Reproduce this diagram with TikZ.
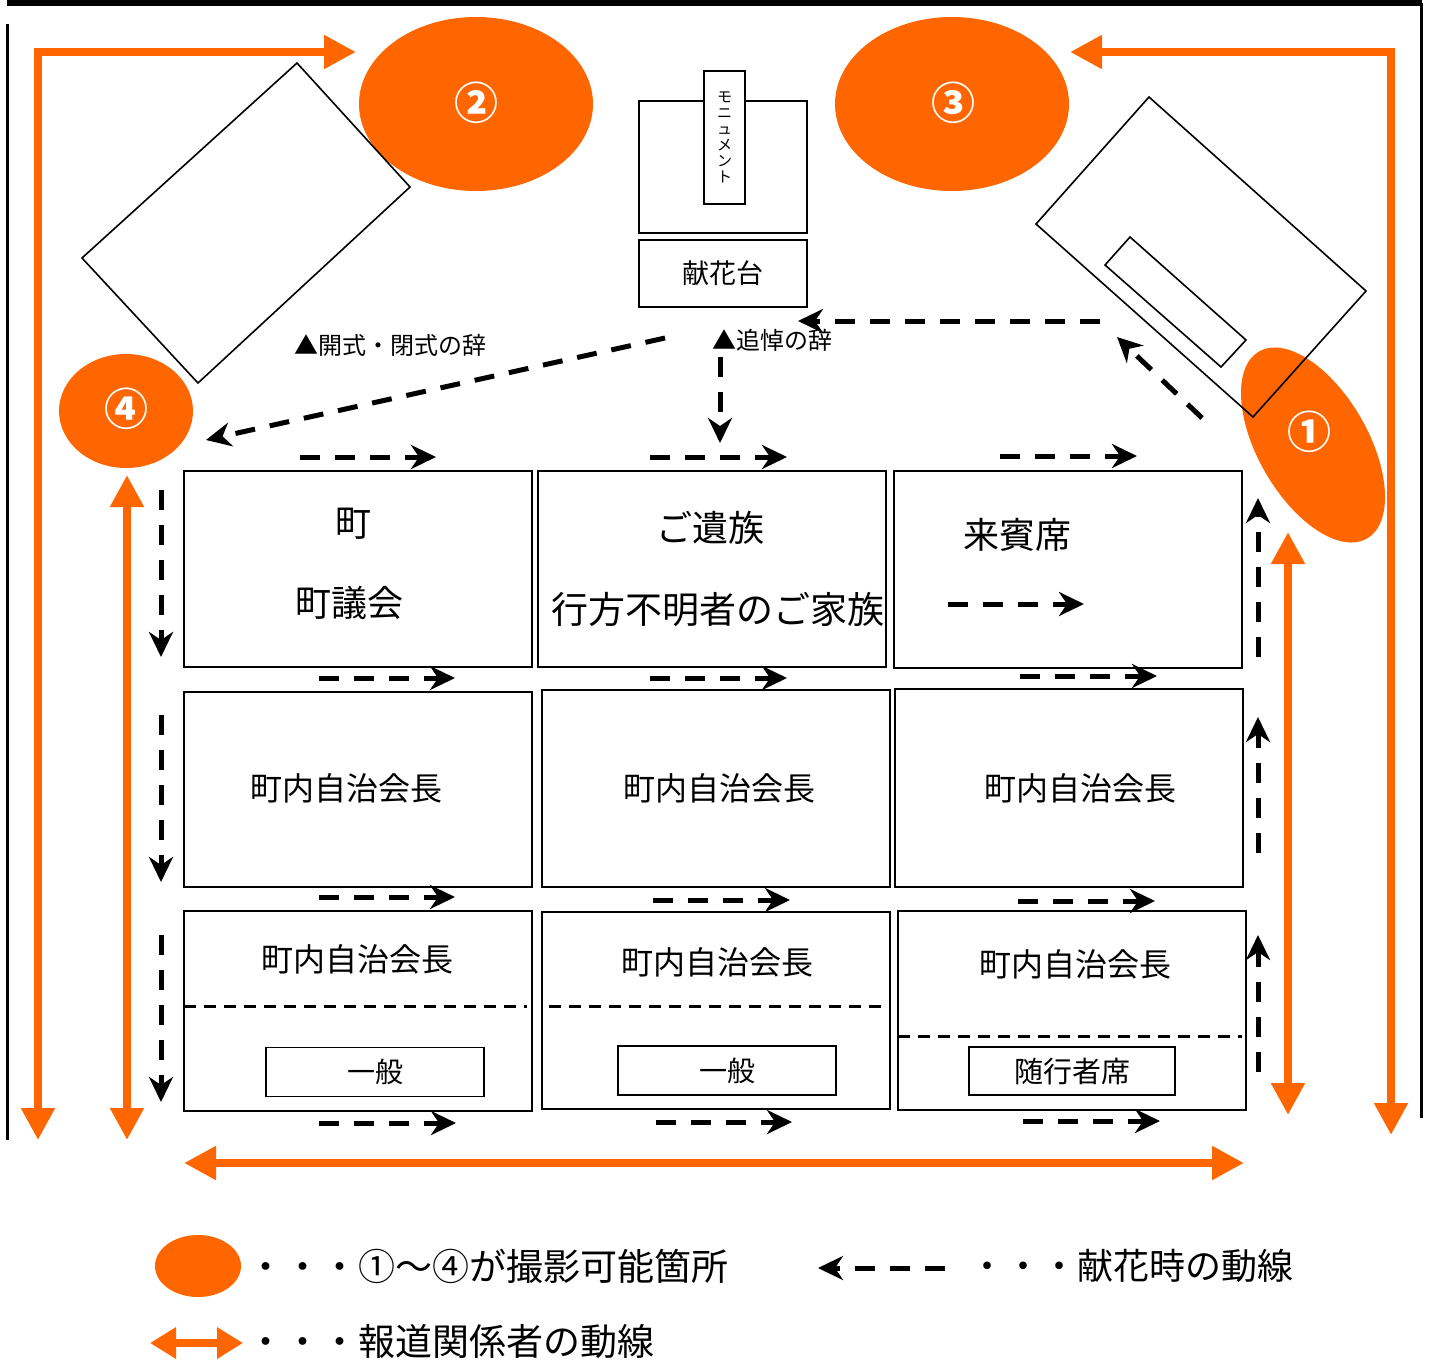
\documentclass[tikz,border=0pt]{standalone}
\usepackage{fontspec}
\setmainfont{Noto Sans CJK JP}
\usetikzlibrary{arrows.meta}
\definecolor{hodo}{HTML}{FF6600}
\newcommand{\fsz}[1]{\fontsize{#1}{#1}\selectfont}

\begin{document}
\begin{tikzpicture}[x=1pt,y=-1pt,
        seat/.style={line width=1.6pt},
        flow/.style={line width=5pt,dash pattern=on 20pt off 15pt,-{Stealth[length=25pt,width=24pt,inset=8pt]}},
        media/.style={hodo,line width=8pt,{Triangle[length=32pt,width=32pt]}-{Triangle[length=32pt,width=32pt]}},
        spot/.style={text=white,font=\fsz{44}\bfseries},
        lbl/.style={font=\fsz{#1}},
        lbl/.default=32]
        \useasboundingbox (0,0) rectangle (1431,1360);
        % walls
        \draw[line width=6pt] (7,3)--(1422,3);
        \draw[line width=3pt] (7,24)--(7,1140);
        \draw[line width=3pt] (1421,3)--(1421,1118);
        % photo spots
        \fill[hodo] (476,104) ellipse [x radius=117pt, y radius=87pt];
        \fill[hodo] (952,104) ellipse [x radius=117pt, y radius=87pt];
        \fill[hodo] (126,411) ellipse [x radius=67pt, y radius=57pt];
        \fill[hodo,rotate around={-60:(1313,445)}] (1313,445) ellipse [x radius=108pt, y radius=55pt];
        \node[spot] (p1) at (1309,432) {①};
        \node[spot] (p2) at (476,103) {②};
        \node[spot] (p3) at (953,103) {③};
        \node[spot] (p4) at (126,409) {④};
        % tents
        \draw[seat] (297,63)--(410,187)--(198,383)--(82,258)--cycle;
        \draw[seat] (1149,97)--(1366,291)--(1253,417)--(1036,224)--cycle;
        \draw[seat] (1130,237)--(1246,340)--(1221,367)--(1105,265)--cycle;
        % monument
        \draw[seat] (639,101) rectangle (807,233);
        \node[draw,line width=1.6pt,fill=white,minimum width=41pt,minimum height=133pt,inner sep=0pt] (monument) at (724.5,137.5) {};
        \node[font=\fontsize{15}{16}\selectfont,align=center] (monutext) at (monument) {モ\\ニ\\ュ\\メ\\ン\\ト};
        \node[draw,line width=1.6pt,minimum width=168pt,minimum height=67pt,inner sep=0pt,lbl=27] (kenkadai) at (723,273.5) {献花台};
        \node[lbl=24] (kaishiki) at (390,345) {▲開式・閉式の辞};
        \node[lbl=24] (tsuito) at (772,340) {▲追悼の辞};
        % seats
        \foreach \xa/\ya/\xb/\yb in {184/471/532/667, 538/471/886/667, 894/471/1242/668,
                184/692/532/887, 542/690/890/887, 895/689/1243/887,
                184/911/532/1111, 542/912/890/1109, 898/911/1246/1110}
            \draw[seat] (\xa,\ya) rectangle (\xb,\yb);
        \draw[line width=3pt,dash pattern=on 12pt off 8pt] (184,1006)--(527,1006);
        \draw[line width=3pt,dash pattern=on 12pt off 8pt] (549,1006)--(884,1006);
        \draw[line width=3pt,dash pattern=on 12pt off 8pt] (898,1036)--(1242,1036);
        \node[lbl=36] (cho) at (353,524) {町};
        \node[lbl=36] (gikai) at (349,603) {町議会};
        \node[lbl=36] (izoku) at (710,528) {ご遺族};
        \node[lbl=37] (kazoku) at (718,610) {行方不明者のご家族};
        \node[lbl=36] (raihin) at (1017,535) {来賓席};
        \node[lbl] (kaicho1) at (346,788) {町内自治会長};
        \node[lbl] (kaicho2) at (719,788) {町内自治会長};
        \node[lbl] (kaicho3) at (1080,788) {町内自治会長};
        \node[lbl] (kaicho4) at (357,959) {町内自治会長};
        \node[lbl] (kaicho5) at (717,962) {町内自治会長};
        \node[lbl] (kaicho6) at (1075,964) {町内自治会長};
        \node[draw,line width=1.6pt,minimum width=218pt,minimum height=49pt,inner sep=0pt,lbl=28] (ippan1) at (375,1072) {一般};
        \node[draw,line width=1.6pt,minimum width=218pt,minimum height=49pt,inner sep=0pt,lbl=28] (ippan2) at (727,1070.5) {一般};
        \node[draw,line width=1.6pt,minimum width=206pt,minimum height=48pt,inner sep=0pt,lbl=29] (zuiko) at (1072,1071) {随行者席};
        % flower offering route
        \foreach \xa/\xb/\y in {300/436/457, 650/787/457, 1000/1137/456,
                319/455/678, 650/787/678, 1020/1157/676,
                319/455/897, 653/790/900, 1018/1155/901,
                319/456/1123, 656/792/1122, 1023/1160/1121,
                948/1084/604}
            \draw[flow] (\xa,\y)--(\xb,\y);
        \foreach \ya/\yb in {490/657, 715/882, 935/1102}
            \draw[flow] (161,\ya)--(161,\yb);
        \foreach \ya/\yb in {657/498, 853/717, 1072/935}
            \draw[flow] (1258,\ya)--(1258,\yb);
        \draw[flow] (1202,418)--(1117,337);
        \draw[flow] (1100,321)--(798,321);
        \draw[flow] (720,357)--(720,443);
        \draw[flow] (665,338)--(206,440);
        % press routes
        \draw[media] (38,1140) |- (356,52);
        \draw[media] (1070,52) -| (1391,1135);
        \draw[media] (127,475)--(127,1140);
        \draw[media] (1288,532)--(1288,1115);
        \draw[media] (184,1163)--(1244,1163);
        % legend
        \fill[hodo] (198,1266) ellipse [x radius=43pt, y radius=31pt];
        \node[anchor=west,lbl=37] (key1) at (244,1266) {・・・①〜④が撮影可能箇所};
        \draw[flow] (945,1268)--(818,1268);
        \node[anchor=west,lbl=36] (key2) at (966,1266) {・・・献花時の動線};
        \draw[hodo,line width=8pt,{Triangle[length=26pt,width=30pt]}-{Triangle[length=26pt,width=30pt]}] (150,1343)--(243,1343);
        \node[anchor=west,lbl=37] (key3) at (244,1341) {・・・報道関係者の動線};
    \end{tikzpicture}
\end{document}
